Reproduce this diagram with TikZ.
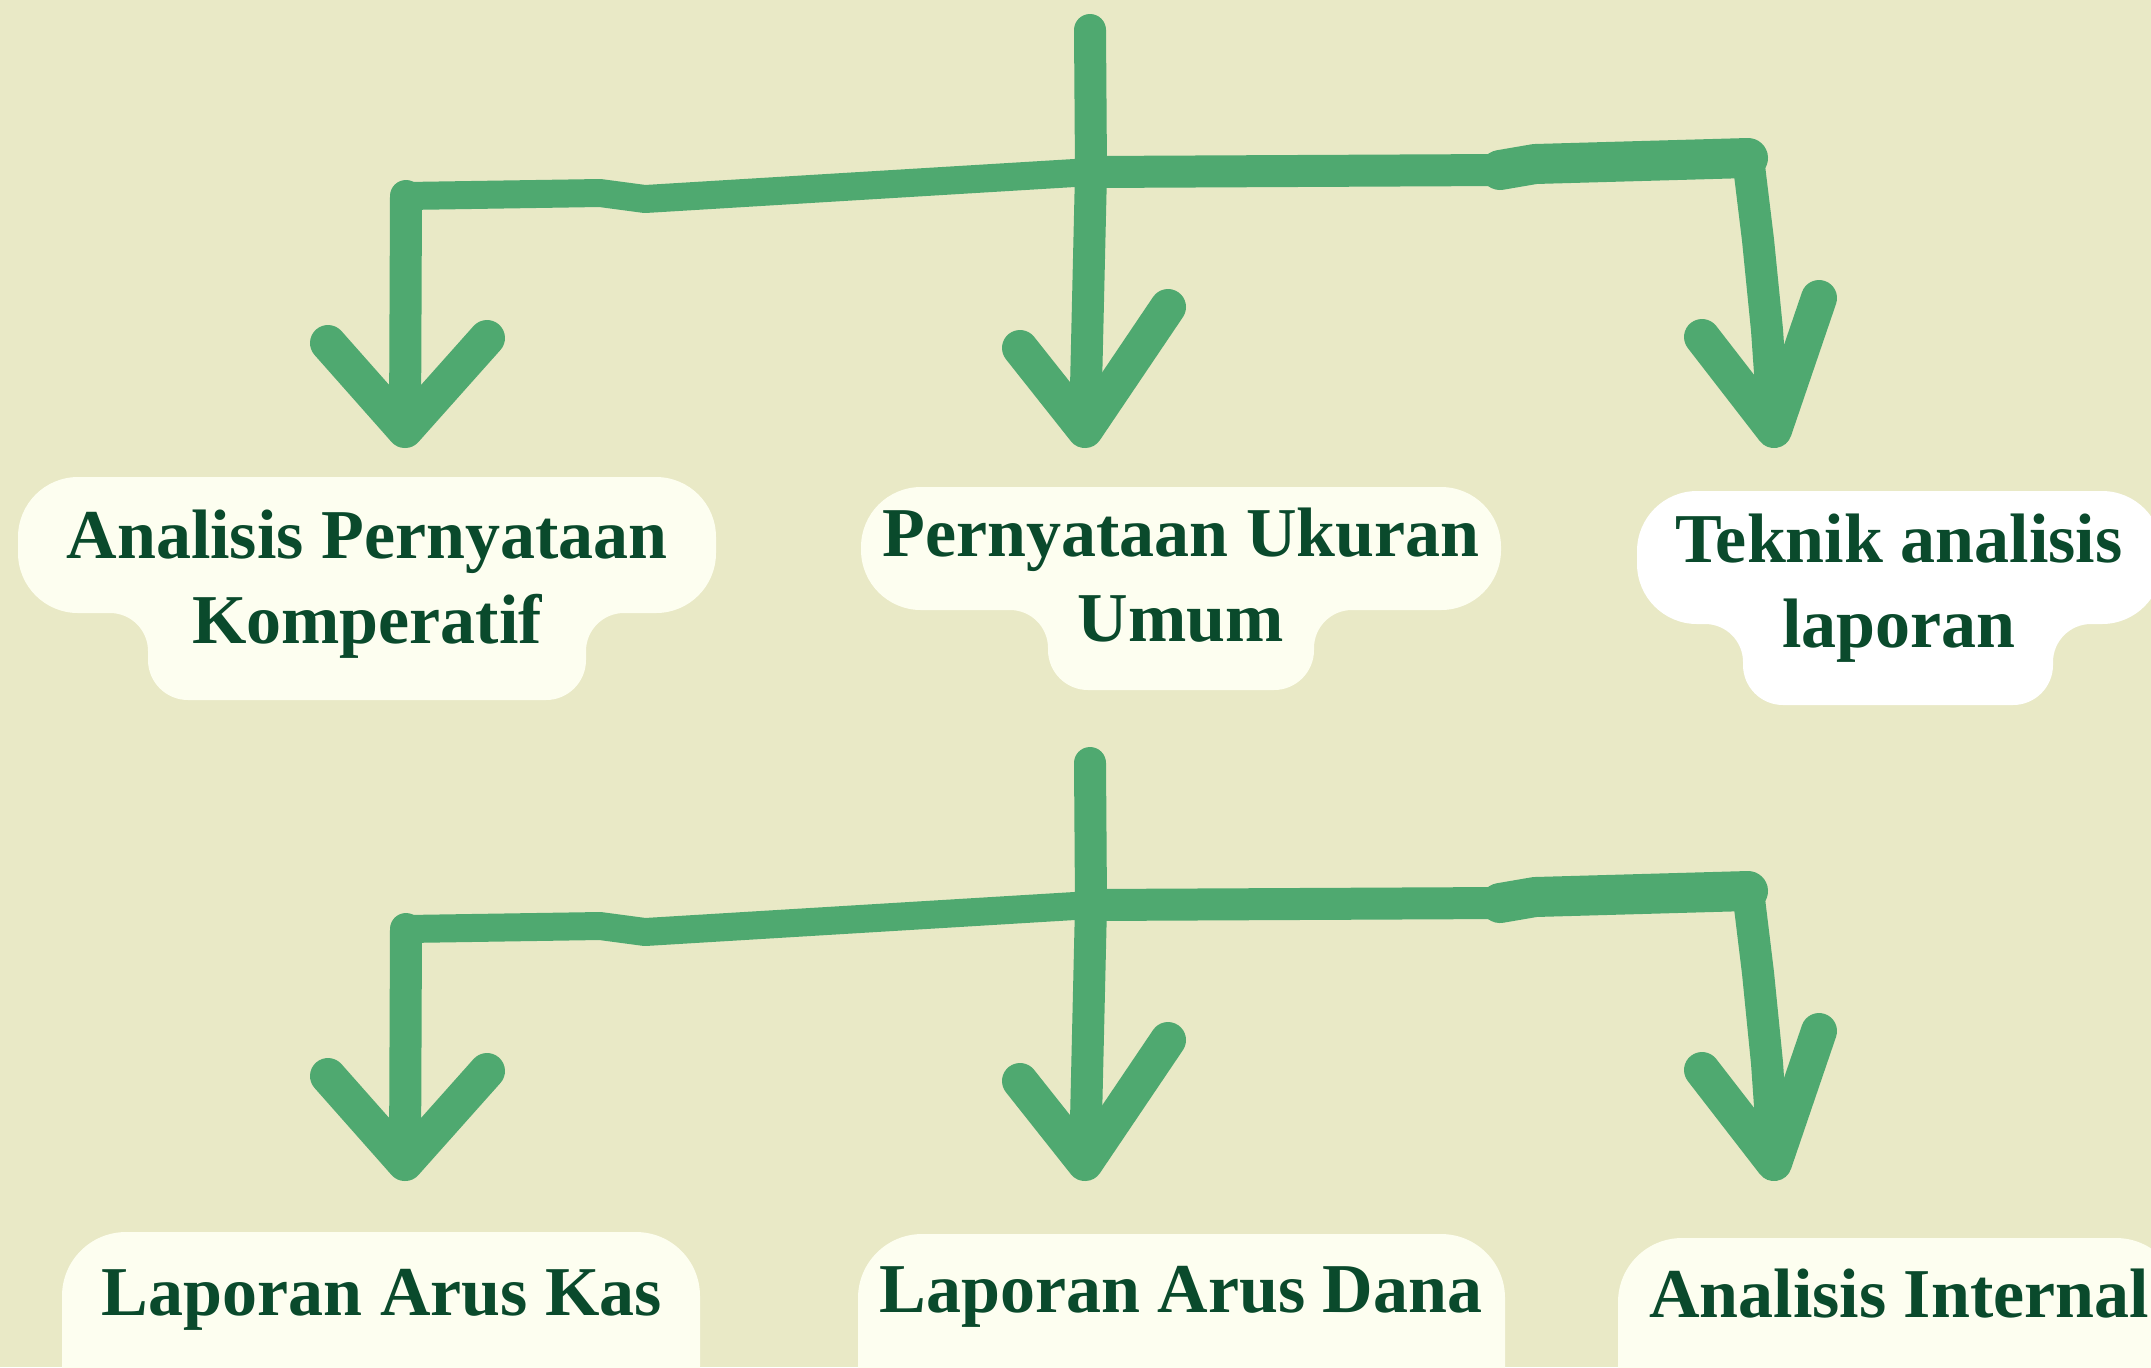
\documentclass[tikz,border=0pt]{standalone}
\usepackage{fontspec}
\setmainfont{Liberation Serif}
\usetikzlibrary{calc}
\definecolor{bgc}{HTML}{E9E9C6}
\definecolor{arrowgreen}{HTML}{4FA970}
\definecolor{txtgreen}{HTML}{0A4A2C}
\definecolor{cream}{HTML}{FDFEF0}
\tikzset{
  hand/.style={draw=arrowgreen, line width=16pt, line cap=round, line join=round},
  thinbar/.style={hand, line width=14pt},
  thickbar/.style={hand, line width=20pt},
  headarm/.style={hand, line width=18pt},
  lbl/.style={text=txtgreen, font=\bfseries\fontsize{35}{42.5}\selectfont, align=center, inner sep=0pt},
  bubble/.style={fill=cream},
}
% x1 y1 x2 y2 x3 x4 y3 style
\newcommand\tabbox[8]{%
  \fill[#8] (#1,#2+60) arc[start angle=180,end angle=270,radius=60]
    -- (#3-60,#2) arc[start angle=270,end angle=360,radius=60]
    -- (#3,#4-60) arc[start angle=0,end angle=90,radius=60]
    -- (#6+38,#4) arc[start angle=270,end angle=180,radius=38]
    -- (#6,#7-40) arc[start angle=0,end angle=90,radius=40]
    -- (#5+40,#7) arc[start angle=90,end angle=180,radius=40]
    -- (#5,#4+38) arc[start angle=0,end angle=-90,radius=38]
    -- (#1+60,#4) arc[start angle=90,end angle=180,radius=60] -- cycle;}
\newcommand\arrowhead[3]{%
  \draw[headarm] (#1) -- (#2) -- (#3);
  \fill[arrowgreen] (#2) -- ($(#2)!0.48!(#1)$) -- ($(#2)!0.48!(#3)$) -- cycle;}
\newcommand\arrowgroup[2]{%
  \begin{scope}[shift={(0,#1)}]
    \coordinate (#2s0) at (1090,30);
    \coordinate (#2s1) at (1091,172);
    \coordinate (#2b0) at (406,196);
    \coordinate (#2b1) at (600,193);
    \coordinate (#2b2) at (645,199);
    \coordinate (#2b4) at (1500,170);
    \coordinate (#2b5) at (1535,164);
    \coordinate (#2b6) at (1748,158);
    \coordinate (#2t1) at (405,430);
    \coordinate (#2t2) at (1085,430);
    \coordinate (#2t3) at (1774,430);
    \coordinate (#2l1) at (328,343);
    \coordinate (#2r1) at (487,338);
    \coordinate (#2l2) at (1020,348);
    \coordinate (#2r2) at (1168,307);
    \coordinate (#2l3) at (1702,337);
    \coordinate (#2r3) at (1819,298);
    \coordinate (#2m3a) at (1758,240);
    \coordinate (#2m3b) at (1767,330);
    % stem
    \draw[hand] (#2s0) -- (#2s1);
    % bar
    \draw[thinbar] (#2b0) -- (#2b1) -- (#2b2) -- (#2s1);
    \draw[hand] (#2s1) -- (#2b4);
    \draw[thickbar] (#2b4) -- (#2b5) -- (#2b6);
    % legs
    \draw[hand] (#2b0) -- (#2t1);
    \draw[hand] (#2s1) -- (#2t2);
    \draw[hand] (#2b6) -- (#2m3a) -- (#2m3b) -- (#2t3);
    % heads
    \arrowhead{#2l1}{#2t1}{#2r1}
    \arrowhead{#2l2}{#2t2}{#2r2}
    \arrowhead{#2l3}{#2t3}{#2r3}
  \end{scope}}
\begin{document}
\begin{tikzpicture}[x=0.5pt,y=-0.5pt]
  \useasboundingbox (0,0) rectangle (2151,1367);
  \fill[bgc] (0,0) rectangle (2151,1367);
  \begin{scope}
    \clip (0,0) rectangle (2151,1367);
    \tabbox{18}{477}{716}{613}{148}{586}{700}{bubble}
    \tabbox{861}{487}{1501}{610}{1048}{1314}{690}{bubble}
    \tabbox{1637}{491}{2162}{624}{1743}{2053}{705}{fill=white}
    \fill[bubble, rounded corners=32pt] (62,1232) rectangle (700,1430);
    \fill[bubble, rounded corners=32pt] (858,1234) rectangle (1505,1430);
    \fill[bubble, rounded corners=32pt] (1618,1238) rectangle (2180,1430);
    \arrowgroup{0}{u}
    \arrowgroup{733}{d}
  \end{scope}
  \node[lbl, anchor=base] (n1) at (367,643) {Analisis Pernyataan\\Komperatif};
  \node[lbl, anchor=base] (n2) at (1181,641) {Pernyataan Ukuran\\Umum};
  \node[lbl, anchor=base] (n3) at (1899,647) {Teknik analisis\\laporan};
  \node[lbl, anchor=base] (n4) at (382,1315) {Laporan Arus Kas};
  \node[lbl, anchor=base] (n5) at (1181,1312) {Laporan Arus Dana};
  \node[lbl, anchor=base] (n6) at (1899,1317) {Analisis Internal};
\end{tikzpicture}
\end{document}
